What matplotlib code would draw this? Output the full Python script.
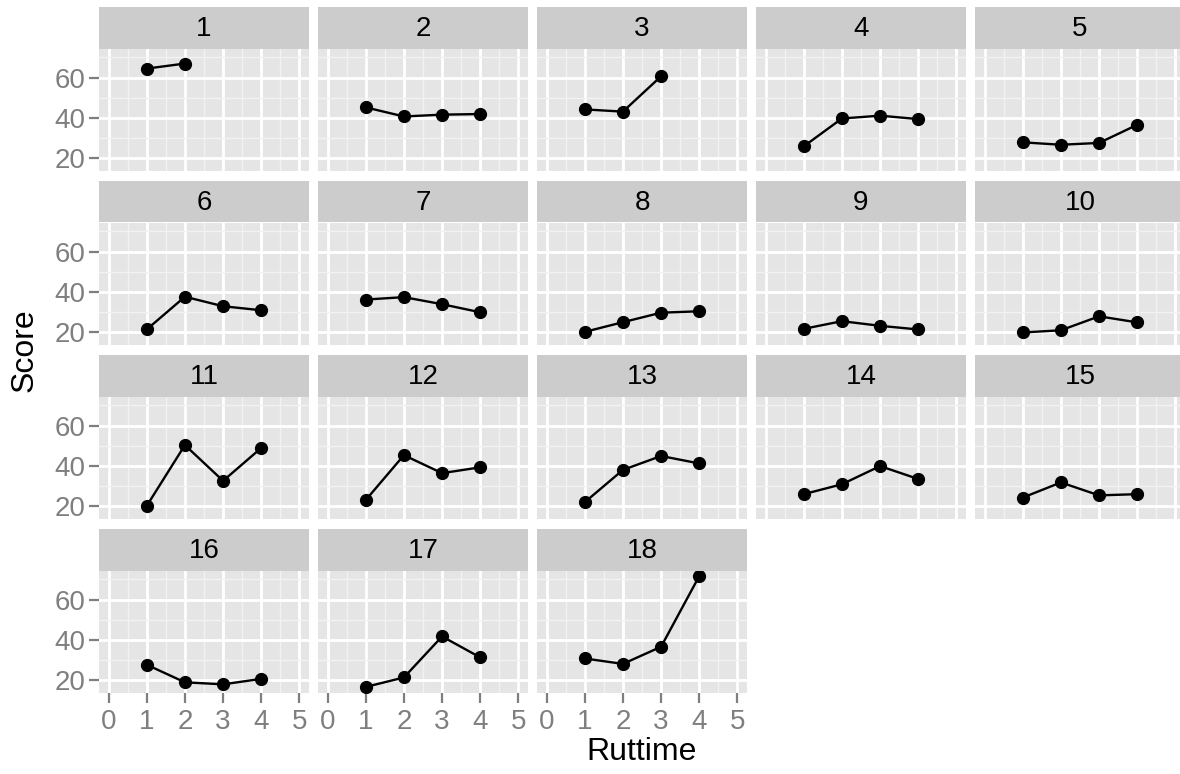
import matplotlib.pyplot as plt
import numpy as np

plt.rcParams['font.family'] = ['Liberation Sans', 'DejaVu Sans']

# data
subjects = list(range(1, 19))
ruttime = [1, 2, 3, 4]
scores = [
    [64.5, 67.0],
    [45.3, 40.8, 41.7, 42.0],
    [44.3, 43.2, 60.7],
    [26.0, 39.8, 41.2, 39.5],
    [28.0, 26.8, 27.7, 36.7],
    [21.5, 37.7, 33.0, 31.0],
    [36.3, 37.5, 34.0, 30.0],
    [20.3, 25.1, 29.8, 30.5],
    [21.8, 25.6, 23.3, 21.5],
    [20.0, 21.1, 28.0, 25.0],
    [20.3, 50.4, 32.7, 49.0],
    [23.2, 45.4, 36.5, 39.4],
    [22.1, 38.1, 45.0, 41.3],
    [26.1, 31.0, 40.0, 33.6],
    [24.4, 31.9, 25.5, 26.1],
    [27.8, 19.1, 18.1, 20.8],
    [16.8, 21.5, 41.8, 31.4],
    [30.9, 28.2, 36.7, 71.7],
]
x_breaks = [0, 1, 2, 3, 4, 5]
y_breaks = [20, 40, 60]

# layout (pixels)
W, H = 1180, 774
ncol = 5
left0, col_pitch, panel_w = 99, 219, 210
top0, row_pitch, strip_h, panel_h = 7, 174, 41.5, 122

allv = np.concatenate([np.array(s) for s in scores])
yr = allv.max() - allv.min()
ylim = (allv.min() - 0.05 * yr, allv.max() + 0.05 * yr)
xlim = (-0.25, 5.25)

grey_txt = '#7f7f7f'
fs = 20

fig = plt.figure(figsize=(W / 100, H / 100), dpi=100)

for i, subj in enumerate(subjects):
    r, c = divmod(i, ncol)
    x0 = left0 + c * col_pitch
    st = top0 + r * row_pitch
    # strip
    sax = fig.add_axes([x0 / W, 1 - (st + strip_h) / H, panel_w / W, strip_h / H])
    sax.set_facecolor('#cccccc')
    sax.set_xticks([])
    sax.set_yticks([])
    for sp in sax.spines.values():
        sp.set_visible(False)
    sax.text(0.5, 0.47, str(subj), ha='center', va='center', fontsize=fs,
             color='black', transform=sax.transAxes)

    # panel
    pt = st + strip_h
    ax = fig.add_axes([x0 / W, 1 - (pt + panel_h) / H, panel_w / W, panel_h / H])
    ax.set_facecolor('#e5e5e5')
    for sp in ax.spines.values():
        sp.set_visible(False)
    ax.set_xlim(xlim)
    ax.set_ylim(ylim)
    ax.set_xticks(x_breaks)
    ax.set_yticks(y_breaks)
    ax.set_xticks([b + 0.5 for b in x_breaks[:-1]], minor=True)
    ax.set_yticks([30, 50, 70], minor=True)
    ax.grid(which='minor', color='#f2f2f2', linewidth=1.0)
    ax.grid(which='major', color='white', linewidth=2.0)
    ax.set_axisbelow(True)
    ax.tick_params(which='minor', length=0)
    ax.tick_params(which='major', length=7, width=1.6, color=grey_txt,
                   labelcolor=grey_txt, labelsize=fs, pad=3)
    ax.tick_params(axis='x', which='major', pad=5)

    if c != 0:
        ax.tick_params(axis='y', which='major', left=False, labelleft=False)
    if r != 3:
        ax.tick_params(axis='x', which='major', bottom=False, labelbottom=False)

    xs = ruttime[:len(scores[i])]
    ax.plot(xs, scores[i], color='black', linewidth=1.7, marker='o',
            markersize=8.5, zorder=3)

fig.text(642 / W, 1 - 752 / H, 'Ruttime', ha='center', va='center', fontsize=23)
fig.text(25 / W, 1 - 350 / H, 'Score', ha='center', va='center', fontsize=23,
         rotation=90)

fig.savefig('out.png', dpi=100)
